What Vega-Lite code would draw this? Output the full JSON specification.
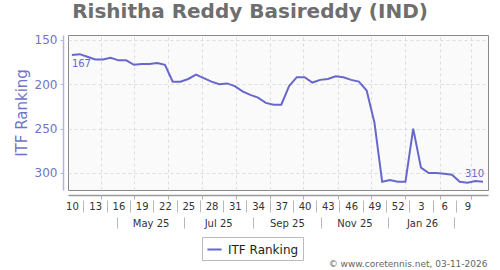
{
  "$schema": "https://vega.github.io/schema/vega-lite/v6.json",
  "width": 420,
  "height": 155,
  "autosize": {"type": "none"},
  "padding": {"left": 68, "top": 35, "right": 12, "bottom": 80},
  "background": "white",
  "title": {
    "text": "Rishitha Reddy Basireddy (IND)",
    "fontSize": 20,
    "fontWeight": "bold",
    "color": "#6e6e6e",
    "anchor": "middle",
    "frame": "group",
    "dx": -28,
    "offset": 12
  },
  "config": {
    "font": "DejaVu Sans",
    "view": {"fill": "#fafafa", "stroke": "#8a8a8a", "strokeWidth": 1}
  },
  "data": {
    "values": [
      {"date": "2025-03-06", "rank": 167},
      {"date": "2025-03-13", "rank": 166},
      {"date": "2025-03-20", "rank": 169},
      {"date": "2025-03-27", "rank": 172},
      {"date": "2025-04-03", "rank": 172},
      {"date": "2025-04-10", "rank": 170},
      {"date": "2025-04-17", "rank": 173},
      {"date": "2025-04-24", "rank": 173},
      {"date": "2025-05-01", "rank": 178},
      {"date": "2025-05-08", "rank": 177},
      {"date": "2025-05-15", "rank": 177},
      {"date": "2025-05-22", "rank": 176},
      {"date": "2025-05-29", "rank": 178},
      {"date": "2025-06-05", "rank": 197},
      {"date": "2025-06-12", "rank": 197},
      {"date": "2025-06-19", "rank": 194},
      {"date": "2025-06-26", "rank": 189},
      {"date": "2025-07-03", "rank": 193},
      {"date": "2025-07-10", "rank": 197},
      {"date": "2025-07-17", "rank": 200},
      {"date": "2025-07-24", "rank": 199},
      {"date": "2025-07-31", "rank": 202},
      {"date": "2025-08-07", "rank": 208},
      {"date": "2025-08-14", "rank": 212},
      {"date": "2025-08-21", "rank": 215},
      {"date": "2025-08-28", "rank": 221},
      {"date": "2025-09-04", "rank": 223},
      {"date": "2025-09-11", "rank": 223},
      {"date": "2025-09-18", "rank": 202},
      {"date": "2025-09-25", "rank": 192},
      {"date": "2025-10-02", "rank": 192},
      {"date": "2025-10-09", "rank": 198},
      {"date": "2025-10-16", "rank": 195},
      {"date": "2025-10-23", "rank": 194},
      {"date": "2025-10-30", "rank": 191},
      {"date": "2025-11-06", "rank": 192},
      {"date": "2025-11-13", "rank": 195},
      {"date": "2025-11-20", "rank": 197},
      {"date": "2025-11-27", "rank": 207},
      {"date": "2025-12-04", "rank": 243},
      {"date": "2025-12-11", "rank": 310},
      {"date": "2025-12-18", "rank": 308},
      {"date": "2025-12-25", "rank": 310},
      {"date": "2026-01-01", "rank": 310},
      {"date": "2026-01-08", "rank": 250},
      {"date": "2026-01-15", "rank": 294},
      {"date": "2026-01-22", "rank": 300},
      {"date": "2026-01-29", "rank": 300},
      {"date": "2026-02-05", "rank": 301},
      {"date": "2026-02-12", "rank": 302},
      {"date": "2026-02-19", "rank": 310},
      {"date": "2026-02-26", "rank": 311},
      {"date": "2026-03-05", "rank": 309},
      {"date": "2026-03-12", "rank": 310}
    ]
  },
  "encoding": {
    "y": {
      "field": "rank",
      "type": "quantitative",
      "scale": {"domain": [144.4, 319.2], "reverse": true, "nice": false, "zero": false},
      "axis": {
        "values": [150, 200, 250, 300],
        "offset": 5,
        "domainColor": "#b4b4e2",
        "domainWidth": 1.5,
        "tickColor": "#b4b4e2",
        "tickSize": 3,
        "labelColor": "#7272c9",
        "labelFontSize": 12,
        "labelPadding": 3,
        "title": "ITF Ranking",
        "titleColor": "#7272c9",
        "titleFontSize": 15,
        "titleFontWeight": "normal",
        "titlePadding": 5,
        "grid": true,
        "gridColor": "#dcdcdc",
        "gridDash": [3, 3]
      }
    }
  },
  "layer": [
    {
      "mark": {"type": "line", "strokeWidth": 2},
      "encoding": {
        "x": {
          "field": "date",
          "type": "temporal",
          "scale": {
            "type": "utc",
            "domain": [
              {"year": 2025, "month": 3, "date": 2, "hours": 12, "utc": true},
              {"year": 2026, "month": 3, "date": 16, "hours": 12, "utc": true}
            ]
          },
          "axis": {
            "orient": "bottom",
            "values": [
              {"year": 2025, "month": 4, "date": 1, "utc": true},
              {"year": 2025, "month": 5, "date": 1, "utc": true},
              {"year": 2025, "month": 6, "date": 1, "utc": true},
              {"year": 2025, "month": 7, "date": 1, "utc": true},
              {"year": 2025, "month": 8, "date": 1, "utc": true},
              {"year": 2025, "month": 9, "date": 1, "utc": true},
              {"year": 2025, "month": 10, "date": 1, "utc": true},
              {"year": 2025, "month": 11, "date": 1, "utc": true},
              {"year": 2025, "month": 12, "date": 1, "utc": true},
              {"year": 2026, "month": 1, "date": 1, "utc": true},
              {"year": 2026, "month": 2, "date": 1, "utc": true},
              {"year": 2026, "month": 3, "date": 1, "utc": true}
            ],
            "labels": false,
            "title": null,
            "grid": true,
            "gridColor": "#dcdcdc",
            "gridDash": [3, 3],
            "domain": true,
            "domainColor": "#9a9a9a",
            "domainWidth": 1.5,
            "ticks": true,
            "tickSize": 4,
            "tickColor": "#b0b0b0",
            "offset": 5
          }
        },
        "color": {
          "datum": "ITF Ranking",
          "type": "nominal",
          "scale": {"range": ["#6868cc"]},
          "legend": {
            "orient": "none",
            "legendX": 134,
            "legendY": 202,
            "title": null,
            "strokeColor": "#bbbbbb",
            "fillColor": "#ffffff",
            "padding": 4,
            "symbolType": "stroke",
            "symbolStrokeWidth": 2,
            "symbolSize": 200,
            "labelFontSize": 12,
            "labelColor": "#222222",
            "labelOffset": 5
          }
        }
      }
    },
    {
      "transform": [{"filter": "time(datum.date) == utc(2025,2,6)"}],
      "mark": {"type": "text", "fill": "#6868cc", "fontSize": 10, "align": "left", "baseline": "middle", "dx": 0, "dy": 9},
      "encoding": {
        "x": {
          "field": "date",
          "type": "temporal",
          "axis": {
            "orient": "bottom",
            "values": [
              {"year": 2025, "month": 3, "date": 6, "utc": true},
              {"year": 2025, "month": 3, "date": 27, "utc": true},
              {"year": 2025, "month": 4, "date": 17, "utc": true},
              {"year": 2025, "month": 5, "date": 8, "utc": true},
              {"year": 2025, "month": 5, "date": 29, "utc": true},
              {"year": 2025, "month": 6, "date": 19, "utc": true},
              {"year": 2025, "month": 7, "date": 10, "utc": true},
              {"year": 2025, "month": 7, "date": 31, "utc": true},
              {"year": 2025, "month": 8, "date": 21, "utc": true},
              {"year": 2025, "month": 9, "date": 11, "utc": true},
              {"year": 2025, "month": 10, "date": 2, "utc": true},
              {"year": 2025, "month": 10, "date": 23, "utc": true},
              {"year": 2025, "month": 11, "date": 13, "utc": true},
              {"year": 2025, "month": 12, "date": 4, "utc": true},
              {"year": 2025, "month": 12, "date": 25, "utc": true},
              {"year": 2026, "month": 1, "date": 15, "utc": true},
              {"year": 2026, "month": 2, "date": 5, "utc": true},
              {"year": 2026, "month": 2, "date": 26, "utc": true}
            ],
            "labelExpr": "utcFormat(datum.value, '%-V')",
            "title": null,
            "grid": false,
            "domain": false,
            "ticks": true,
            "tickSize": 12,
            "tickColor": "#b8b8b8",
            "tickOffset": 11.6,
            "labelOffset": -11.6,
            "tickOpacity": {"condition": {"test": "datum.value > utc(2026,1,20)", "value": 0}, "value": 1},
            "labelPadding": -10.5,
            "labelFontSize": 10,
            "labelColor": "#333333",
            "labelFlush": false,
            "labelOverlap": false,
            "offset": 10
          }
        },
        "text": {"field": "rank", "type": "quantitative"}
      }
    },
    {
      "transform": [{"filter": "time(datum.date) == utc(2026,2,12)"}],
      "mark": {"type": "text", "fill": "#6868cc", "fontSize": 10, "align": "right", "baseline": "middle", "dx": 1, "dy": -8},
      "encoding": {
        "x": {
          "field": "date",
          "type": "temporal",
          "axis": {
            "orient": "bottom",
            "values": [
              {"year": 2025, "month": 5, "date": 16, "utc": true},
              {"year": 2025, "month": 7, "date": 16, "utc": true},
              {"year": 2025, "month": 9, "date": 16, "utc": true},
              {"year": 2025, "month": 11, "date": 16, "utc": true},
              {"year": 2026, "month": 1, "date": 16, "utc": true},
              {"year": 2026, "month": 3, "date": 16, "utc": true}
            ],
            "labelExpr": "datum.value > utc(2026,1,20) ? '' : utcFormat(datum.value, '%b %y')",
            "grid": false,
            "domain": false,
            "ticks": true,
            "tickSize": 11,
            "tickColor": "#b8b8b8",
            "tickOffset": -33.7,
            "labelOffset": 33.7,
            "labelPadding": -9.5,
            "labelFontSize": 10,
            "labelColor": "#333333",
            "labelFlush": false,
            "labelOverlap": false,
            "offset": 27,
            "title": "© www.coretennis.net, 03-11-2026",
            "titleFontSize": 9,
            "titleFontWeight": "normal",
            "titleColor": "#666666",
            "titleAlign": "right",
            "titleBaseline": "alphabetic",
            "titleX": 419,
            "titleY": 49
          }
        },
        "text": {"field": "rank", "type": "quantitative"}
      }
    }
  ],
  "resolve": {"axis": {"x": "independent"}}
}
